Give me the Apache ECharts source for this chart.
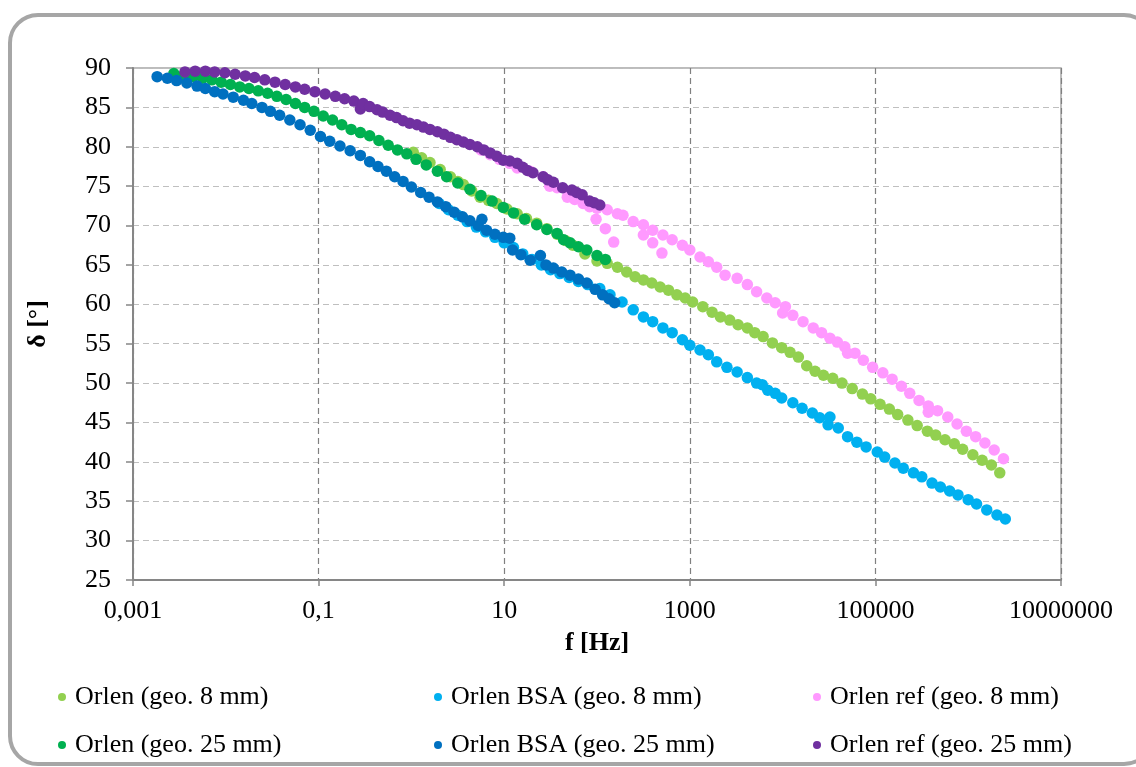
<!DOCTYPE html>
<html>
<head>
<meta charset="utf-8">
<script src="https://cdn.jsdelivr.net/npm/echarts@6/dist/echarts.min.js"></script>
<style>
html,body{margin:0;padding:0;background:#fff;}
#chart{width:1136px;height:767px;}
</style>
</head>
<body>
<div id="chart"></div>
<script>
// log10 of frequency [Hz] and phase angle delta [deg]
const orlen8_lgf = [0.02,0.11,0.20,0.31,0.42,0.50,0.56,0.65,0.74,0.83,0.92,1.03,1.14,1.24,1.35,1.46,1.57,1.66,1.74,1.87,2.00,2.11,2.22,2.32,2.41,2.50,2.59,2.68,2.77,2.86,2.95,3.03,3.14,3.24,3.33,3.43,3.52,3.62,3.70,3.79,3.89,3.99,4.08,4.17,4.26,4.35,4.44,4.54,4.64,4.75,4.86,4.95,5.05,5.15,5.24,5.35,5.45,5.56,5.65,5.75,5.85,5.94,6.05,6.15,6.25,6.34];
const orlen8_deg = [79.3,78.6,78.0,77.1,76.2,75.6,75.2,74.4,73.6,73.2,72.8,72.1,71.5,70.9,70.3,69.6,68.9,68.1,67.5,66.4,65.5,65.2,64.7,64.1,63.5,63.1,62.7,62.2,61.8,61.2,60.8,60.3,59.7,59.0,58.4,58.0,57.4,57.0,56.4,55.9,55.1,54.5,53.9,53.3,52.2,51.5,51.0,50.6,50.0,49.3,48.6,48.0,47.3,46.7,46.0,45.3,44.6,43.9,43.4,42.8,42.3,41.6,40.9,40.2,39.6,38.6];

const bsa8_lgf = [0.30,0.40,0.50,0.60,0.70,0.80,0.90,1.00,1.10,1.20,1.30,1.40,1.50,1.60,1.70,1.80,1.90,2.03,2.14,2.27,2.39,2.50,2.60,2.71,2.81,2.92,3.00,3.11,3.20,3.29,3.40,3.51,3.62,3.72,3.78,3.84,3.92,3.99,4.11,4.21,4.32,4.40,4.49,4.51,4.60,4.70,4.80,4.90,5.02,5.10,5.21,5.30,5.41,5.50,5.61,5.70,5.80,5.89,6.00,6.09,6.20,6.31,6.40];
const bsa8_deg = [72.8,72.0,71.3,70.5,69.8,69.2,68.5,67.8,67.2,66.4,65.7,65.0,64.4,63.9,63.4,62.9,62.5,62.0,61.2,60.3,59.3,58.4,57.8,57.0,56.4,55.5,54.8,54.2,53.6,52.7,52.0,51.4,50.7,50.0,49.8,49.1,48.7,48.1,47.5,46.8,46.2,45.6,44.7,45.7,44.3,43.2,42.5,41.9,41.25,40.6,39.85,39.2,38.6,38.1,37.3,36.8,36.3,35.8,35.2,34.65,33.9,33.25,32.75];

const ref8_lgf = [0.75,0.85,0.95,1.06,1.14,1.28,1.42,1.49,1.57,1.68,1.76,1.85,1.92,1.99,2.00,2.09,2.11,2.18,2.22,2.28,2.39,2.50,2.50,2.60,2.60,2.70,2.71,2.81,2.92,3.00,3.11,3.20,3.29,3.38,3.51,3.62,3.72,3.83,3.92,4.00,4.03,4.11,4.22,4.33,4.42,4.51,4.59,4.67,4.70,4.78,4.87,4.97,5.08,5.18,5.28,5.37,5.47,5.57,5.57,5.67,5.78,5.88,5.98,6.08,6.18,6.28,6.38];
const ref8_deg = [79.6,79.0,78.4,77.9,77.3,76.9,76.2,75.0,74.8,73.6,73.3,72.8,72.4,70.8,72.2,69.6,72.0,67.9,71.5,71.3,70.5,70.1,68.8,69.4,67.8,66.5,68.8,68.2,67.5,66.9,66.0,65.4,64.7,63.7,63.3,62.5,61.6,60.8,60.2,58.9,59.7,58.6,57.8,57.0,56.4,55.7,55.2,54.6,53.8,53.8,52.9,52.0,51.3,50.5,49.6,48.7,47.8,47.1,46.3,46.5,45.7,44.8,43.9,43.2,42.4,41.5,40.4];

const orlen25_lgf = [-2.56,-2.45,-2.35,-2.25,-2.15,-2.05,-1.95,-1.85,-1.75,-1.65,-1.55,-1.45,-1.35,-1.25,-1.15,-1.05,-0.95,-0.85,-0.75,-0.65,-0.55,-0.45,-0.35,-0.25,-0.15,-0.05,0.05,0.16,0.28,0.38,0.50,0.63,0.75,0.87,0.99,1.10,1.22,1.35,1.46,1.57,1.64,1.71,1.80,1.89,2.00,2.09];
const orlen25_deg = [89.3,89.1,88.9,88.7,88.5,88.2,87.9,87.6,87.4,87.1,86.8,86.4,86.0,85.5,85.0,84.5,83.9,83.4,82.8,82.2,81.8,81.4,80.8,80.2,79.6,79.1,78.4,77.7,76.9,76.2,75.4,74.6,73.8,73.1,72.3,71.6,70.8,70.1,69.5,69.0,68.2,67.8,67.3,66.9,66.2,65.7];

const bsa25_lgf = [-2.74,-2.63,-2.53,-2.42,-2.31,-2.22,-2.12,-2.03,-1.92,-1.81,-1.72,-1.61,-1.52,-1.42,-1.31,-1.20,-1.09,-0.98,-0.88,-0.77,-0.66,-0.55,-0.45,-0.36,-0.27,-0.18,-0.09,0.00,0.10,0.19,0.28,0.37,0.46,0.55,0.63,0.72,0.76,0.81,0.90,0.99,1.06,1.09,1.18,1.28,1.39,1.45,1.53,1.62,1.71,1.80,1.89,1.98,2.06,2.13,2.19];
const bsa25_deg = [88.9,88.7,88.4,88.1,87.7,87.4,87.0,86.7,86.3,85.9,85.5,85.0,84.5,84.0,83.4,82.8,82.1,81.3,80.7,80.1,79.5,78.9,78.1,77.5,76.9,76.2,75.6,74.9,74.2,73.6,73.0,72.4,71.7,71.1,70.6,70.0,70.8,69.4,68.9,68.5,68.4,66.9,66.3,65.6,66.2,65.0,64.6,64.1,63.7,63.2,62.7,61.9,61.2,60.7,60.2];

const ref25_lgf = [-2.44,-2.33,-2.22,-2.12,-2.01,-1.90,-1.79,-1.69,-1.58,-1.47,-1.36,-1.25,-1.15,-1.04,-0.93,-0.82,-0.72,-0.62,-0.55,-0.52,-0.45,-0.37,-0.31,-0.23,-0.16,-0.09,-0.02,0.06,0.13,0.20,0.28,0.35,0.42,0.49,0.56,0.63,0.71,0.78,0.85,0.92,0.99,1.06,1.14,1.20,1.25,1.31,1.42,1.47,1.53,1.63,1.73,1.78,1.84,1.92,1.97,2.03];
const ref25_deg = [89.5,89.6,89.6,89.5,89.4,89.2,89.0,88.8,88.5,88.2,87.9,87.6,87.3,87.0,86.7,86.4,86.1,85.8,84.8,85.5,85.1,84.7,84.4,84.0,83.7,83.3,83.0,82.8,82.5,82.2,81.9,81.6,81.2,80.9,80.6,80.3,80.0,79.6,79.2,78.8,78.3,78.2,77.9,77.4,77.0,76.7,76.2,75.8,75.5,74.8,74.5,74.2,73.9,73.1,72.9,72.6];

const seriesNames = ['Orlen (geo. 8 mm)','Orlen BSA (geo. 8 mm)','Orlen ref (geo. 8 mm)','Orlen (geo. 25 mm)','Orlen BSA (geo. 25 mm)','Orlen ref (geo. 25 mm)'];
const seriesColors = ['#92D050','#00B0F0','#FF99FF','#00B050','#0070C0','#7030A0'];
const seriesX = [orlen8_lgf,bsa8_lgf,ref8_lgf,orlen25_lgf,bsa25_lgf,ref25_lgf];
const seriesY = [orlen8_deg,bsa8_deg,ref8_deg,orlen25_deg,bsa25_deg,ref25_deg];

const xMinExp = -3, xMaxExp = 7, xStepExp = 2;
const yMin = 25, yMax = 90, yStep = 5;
const xTitle = 'f [Hz]';
const yTitle = 'δ [°]';

const FONT = '"Liberation Serif", "Times New Roman", serif';
const FS = 26;

function fmtX(v){
  const e = Math.round(v);
  if (e < 0) return (Math.pow(10, e)).toFixed(-e).replace('.', ',');
  return String(Math.round(Math.pow(10, e)));
}

const series = seriesNames.map((n, i) => ({
  name: n,
  type: 'scatter',
  symbol: 'circle',
  symbolSize: 11.5,
  itemStyle: {color: seriesColors[i], opacity: 1},
  data: seriesX[i].map((x, k) => [x, seriesY[i][k]]),
  z: 2 + i
}));

const legendPos = [
  {left: 58, top: 684}, {left: 434, top: 684}, {left: 813, top: 684},
  {left: 58, top: 732}, {left: 434, top: 732}, {left: 813, top: 732}
];
const legends = seriesNames.map((n, i) => ({
  data: [n],
  left: legendPos[i].left,
  top: legendPos[i].top,
  icon: 'circle',
  itemWidth: 8,
  itemHeight: 8,
  padding: 0,
  textStyle: {fontFamily: FONT, fontSize: FS, color: '#000', padding: [0,0,0,4]}
}));

const chart = echarts.init(document.getElementById('chart'));
chart.setOption({
  backgroundColor: '#ffffff',
  animation: false,
  graphic: [{
    type: 'rect',
    shape: {x: 10, y: 15, width: 1142, height: 749, r: 28},
    style: {fill: 'none', stroke: '#A6A6A6', lineWidth: 4},
    z: -1
  }],
  grid: {left: 133, right: 75, top: 68, bottom: 187, show: true, borderColor: '#A6A6A6', borderWidth: 1.5, backgroundColor: 'transparent'},
  legend: legends,
  xAxis: {
    type: 'value', min: xMinExp, max: xMaxExp, interval: xStepExp,
    name: xTitle, nameLocation: 'middle', nameGap: 50,
    nameTextStyle: {fontFamily: FONT, fontSize: FS, fontWeight: 'bold', color: '#000'},
    axisLine: {show: true, onZero: false, lineStyle: {color: '#868686', width: 2}},
    axisTick: {show: true, inside: false, length: 6, lineStyle: {color: '#868686', width: 1.5}},
    axisLabel: {formatter: fmtX, fontFamily: FONT, fontSize: FS, color: '#000', margin: 18},
    splitLine: {show: true, lineStyle: {color: '#808080', type: [6,4], width: 1.2}}
  },
  yAxis: {
    type: 'value', min: yMin, max: yMax, interval: yStep,
    name: yTitle, nameLocation: 'middle', nameGap: 82, nameRotate: 90,
    nameTextStyle: {fontFamily: FONT, fontSize: FS, fontWeight: 'bold', color: '#000'},
    axisLine: {show: true, onZero: false, lineStyle: {color: '#868686', width: 2}},
    axisTick: {show: true, inside: false, length: 7, lineStyle: {color: '#868686', width: 1.5}},
    axisLabel: {fontFamily: FONT, fontSize: FS, color: '#000', margin: 22},
    splitLine: {show: true, lineStyle: {color: '#BFBFBF', type: [6,4], width: 1.2}}
  },
  series: series
});
</script>
</body>
</html>
